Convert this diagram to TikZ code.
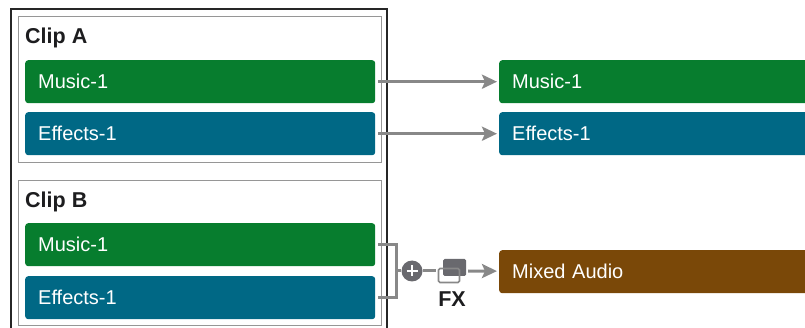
\documentclass[tikz,border=0pt]{standalone}
\usepackage{fontspec}
\setmainfont{Liberation Sans}
\usepackage{xcolor}
\usetikzlibrary{arrows.meta}
\usetikzlibrary{positioning}
\definecolor{musicgreen}{RGB}{7,125,46}
\definecolor{effectsblue}{RGB}{0,104,133}
\definecolor{mixbrown}{RGB}{122,72,8}
\definecolor{linkgray}{RGB}{136,136,136}
\definecolor{framegray}{RGB}{150,150,150}
\definecolor{icongray}{RGB}{105,105,110}
\definecolor{titleink}{RGB}{29,29,31}
\tikzset{
  clipbox/.style={draw=framegray, line width=1.3pt, anchor=north west, minimum width=363pt, minimum height=146pt, inner sep=0pt},
  trackbar/.style={rounded corners=3pt, anchor=north west, minimum height=43pt, text=white, font=\fontsize{20}{20}\selectfont,
    text width=324pt, inner xsep=13pt, inner ysep=0pt, text height=14pt, text depth=0pt, align=left},
  cliptitle/.style={anchor=base west, inner sep=0pt, text=titleink, font=\fontsize{21.5}{21.5}\selectfont\bfseries},
  link/.style={draw=linkgray, line width=3pt},
  arrowlink/.style={link, -{Stealth[length=15pt, width=14pt, inset=3pt]}, shorten >=2pt, shorten <=3pt},
}
\begin{document}
\begin{tikzpicture}[x=1pt, y=-1pt]
\useasboundingbox (0, 0) rectangle (805, 328);
\clip (0, 0) rectangle (805, 328);
%outer frame
\draw[line width=1.4pt, black!85] (11, 340) -- (11, 9) -- (387, 9) -- (387, 340);

%clips
\node[clipbox] (clipA) at (18, 16) {};
\node[clipbox, minimum height=145pt] (clipB) at (18, 180) {};
\node[cliptitle] (titleA) at (25, 44) {Clip A};
\node[cliptitle] (titleB) at (25, 207.5) {Clip B};

%left tracks
\node[trackbar, fill=musicgreen] (musicA) at (25, 60) {Music-1};
\node[trackbar, fill=effectsblue] (effectsA) at (25, 112) {Effects-1};
\node[trackbar, fill=musicgreen] (musicB) at (25, 223) {Music-1};
\node[trackbar, fill=effectsblue] (effectsB) at (25, 276) {Effects-1};

%right tracks
\node[trackbar, fill=musicgreen] (musicOut) at (499, 60) {Music-1};
\node[trackbar, fill=effectsblue] (effectsOut) at (499, 112) {Effects-1};
\node[trackbar, fill=mixbrown] (mixOut) at (499, 250) {Mixed Audio};

\draw[arrowlink] (musicA) -- (musicOut);
\draw[arrowlink] (effectsA) -- (effectsOut);

%mix bracket
\node[circle, fill=icongray, minimum size=21pt, inner sep=0pt] (plus) at (412, 271) {};
\coordinate (fxin) at (436, 271);
\coordinate (fxout) at (468, 271);
\draw[white, line width=2.6pt] (plus.center) +(-5.5, 0) -- +(5.5, 0);
\draw[white, line width=2.6pt] (plus.center) +(0, -5.5) -- +(0, 5.5);
\draw[link] (musicB.east) ++(3, 0) -| (396, 271) |- ([xshift=3pt]effectsB.east);
\draw[link] (396, 271) -- (plus);
\draw[link] (plus) -- (fxin);

%fx icon
\node[fill=icongray, rounded corners=1.5pt, minimum width=23pt, minimum height=17pt, inner sep=0pt] (fxback) at (454.5, 267.5) {};
\node[draw=linkgray, line width=1.6pt, rounded corners=1.5pt, minimum width=21pt, minimum height=14pt, inner sep=0pt] (fxfront) at (449, 275.5) {};
\node[inner sep=0pt, anchor=base, text=titleink, font=\fontsize{21.5}{21.5}\selectfont\bfseries] (fxlabel) at (452, 306) {FX};

\draw[arrowlink, shorten <=0pt] (fxout) -- (mixOut);
\end{tikzpicture}
\end{document}
